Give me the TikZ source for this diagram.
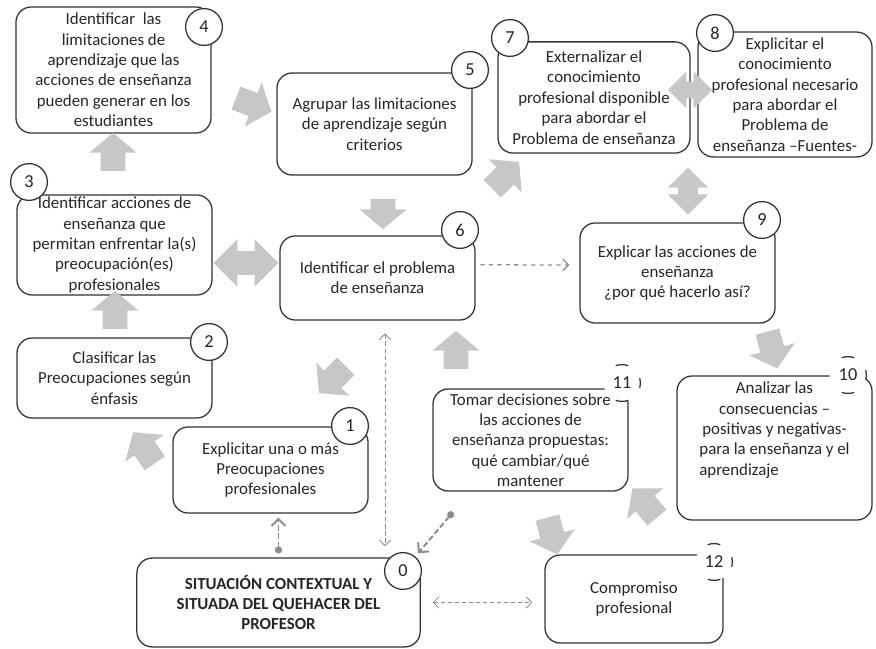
\documentclass[tikz,border=0pt]{standalone}
\usepackage{fontspec}
\setmainfont{Carlito}
\usetikzlibrary{shapes.arrows,arrows.meta,positioning}

\tikzset{
  box/.style={draw=black!80, line width=0.9pt, rounded corners=0.38cm, align=center,
    text=black!85, font=\fontsize{12}{14.5}\selectfont, inner sep=1pt,
    minimum width=4.875cm},
  num/.style={circle, draw=black!80, line width=0.9pt, fill=white, minimum size=0.92cm,
    inner sep=0pt, outer sep=0pt, text=black!85, font=\fontsize{13}{15}\selectfont},
  opennum/.style={num, draw=none},
  numarc/.style={draw=black!80, line width=0.9pt},
  blockarrow/.style={single arrow, fill=black!22, draw=none, inner xsep=0pt,
    inner ysep=0.3cm, single arrow head extend=0.28cm, single arrow tip angle=100,
    minimum height=0.95cm},
  dblarrow/.style={double arrow, fill=black!22, draw=none, inner xsep=0pt,
    inner ysep=0.29cm, double arrow head extend=0.3cm, minimum height=1.62cm},
  dashlink/.style={draw=black!45, dashed, line width=0.9pt, -{Straight Barb[length=4pt]}},
  thinlink/.style={draw=black!45, densely dashed, line width=0.6pt,
    {Straight Barb[length=4pt]}-{Straight Barb[length=4pt]}},
  dotlink/.style={draw=black!45, dash pattern=on 4pt off 2pt, line width=1.4pt,
    {Circle[length=5pt]}-{Straight Barb[length=5pt]}}
}

\begin{document}
\begin{tikzpicture}[x=0.025cm, y=-0.025cm]
\useasboundingbox (0,0) rectangle (876,649);

\node[box, minimum height=3.15cm] (b4) at (113.5,70) {Identificar\ \ las\\ limitaciones de\\ aprendizaje que las\\ acciones de enseñanza\\ pueden generar en los\\ estudiantes};
\node[box, minimum height=2.55cm] (b5) at (374.5,124) {Agrupar las limitaciones\\ de aprendizaje según\\ criterios};
\node[box, minimum width=4.8cm, minimum height=2.78cm] (b7) at (594,97.5) {Externalizar el\\ conocimiento\\ profesional disponible\\ para abordar el\\ Problema de enseñanza};
\node[box, minimum width=4.35cm, minimum height=3.12cm] (b8) at (785,94.5) {Explicitar el\\ conocimiento\\ profesional necesario\\ para abordar el\\ Problema de\\ enseñanza --Fuentes-};
\node[box, minimum height=2.5cm] (b3) at (114.5,245) {Identificar acciones de\\ enseñanza que\\ permitan enfrentar la(s)\\ preocupación(es)\\ profesionales};
\node[box, minimum height=2.1cm] (b6) at (377.5,278) {Identificar el problema\\ de enseñanza};
\node[box, minimum height=2.5cm] (b9) at (677.5,273) {Explicar las acciones de\\ enseñanza\\ ¿por qué hacerlo así?};
\node[box, minimum height=2cm] (b2) at (114.5,378) {Clasificar las\\ Preocupaciones según\\ énfasis};
\node[box, minimum height=2.15cm] (b1) at (270.5,470) {Explicitar una o más\\ Preocupaciones\\ profesionales};
\node[box, minimum height=2.55cm] (b11) at (530.5,440) {Tomar decisiones sobre\\ las acciones de\\ enseñanza propuestas:\\ qué cambiar/qué\\ mantener};
\node[box, minimum height=3.6cm] (b10) at (774.5,448) {};
\node[align=center, text=black!85, font=\fontsize{12}{14.5}\selectfont, anchor=north] (t10) at (774.5,377) {Analizar las\\ consecuencias --\\ positivas y negativas-\\ para la enseñanza y el\\ aprendizaje\hspace*{4.2em}};
\node[box, minimum width=7.08cm, minimum height=2.22cm, font=\fontsize{12}{14.5}\selectfont\bfseries] (b0) at (278.5,602.5) {SITUACIÓN CONTEXTUAL Y\\ SITUADA DEL QUEHACER DEL\\ PROFESOR};
\node[box, minimum width=4.45cm, minimum height=2.2cm] (b12) at (634,599) {Compromiso\\ profesional};

\node[num] (c4) at (204,27) {4};
\node[num] (c5) at (470,70) {5};
\node[num] (c7) at (510,38) {7};
\node[num] (c8) at (715,33) {8};
\node[num] (c3) at (29,182) {3};
\node[num] (c6) at (460,230) {6};
\node[num] (c9) at (762,220) {9};
\node[num] (c2) at (209,342) {2};
\node[num] (c1) at (350,426) {1};
\node[num] (c0) at (403,571) {0};
\node[opennum] (c11) at (622,383) {11};
\node[opennum] (c10) at (848,375) {10};
\node[opennum] (c12) at (714,562) {12};
\foreach \c in {c11,c10,c12}{
  \begin{scope}[shift={(\c.center)}, x=1cm, y=1cm]
    \draw[numarc] (70:0.46) arc (70:110:0.46) (250:0.46) arc (250:290:0.46)
      (-15:0.46) arc (-15:15:0.46);
  \end{scope}
}

\node[blockarrow, rotate=125] (a12) at (147,452) {};
\node[blockarrow, rotate=90] (a23) at (115,315) {};
\node[blockarrow, rotate=90] (a34) at (113,157) {};
\node[blockarrow, rotate=-21] (a45) at (249,103) {};
\node[blockarrow, rotate=-90, minimum height=0.75cm] (a56) at (383,209) {};
\node[blockarrow, rotate=45] (a67) at (502,179) {};
\node[blockarrow, rotate=-75] (a910) at (771,345) {};
\node[blockarrow, rotate=130] (a1011) at (648,507) {};
\node[blockarrow, rotate=90] (a116) at (456,355) {};
\node[blockarrow, rotate=-75] (a1112) at (551,531) {};
\node[blockarrow, rotate=225] (a61) at (336,376) {};
\node[dblarrow] (a36) at (246,263) {};
\node[dblarrow, minimum height=1.1cm, inner ysep=0.2cm, double arrow head extend=0.25cm] (a78) at (690,90) {};
\node[dblarrow, rotate=90, minimum height=1.18cm, inner ysep=0.24cm, double arrow head extend=0.26cm] (a89) at (688,191) {};

\coordinate (v60) at (385,0);
\coordinate (d11) at (453,512);
\draw[dashlink, shorten <=0.12cm, shorten >=0.25cm] ([yshift=0.33cm]b6.east) -- ([yshift=0.2cm]b9.west);
\draw[thinlink, shorten <=0.32cm, shorten >=0.28cm] (b6.south -| v60) -- (b0.north -| v60);
\draw[dotlink, shorten >=0.1cm] ([yshift=0.1cm]b0.north) -- (b1.south -| b0.north);
\draw[dotlink, shorten >=0.12cm] (d11) -- (c0);
\draw[thinlink, shorten <=0.3cm, shorten >=0.3cm] (b0.east) -- (b0.east -| b12.west);
\end{tikzpicture}
\end{document}
